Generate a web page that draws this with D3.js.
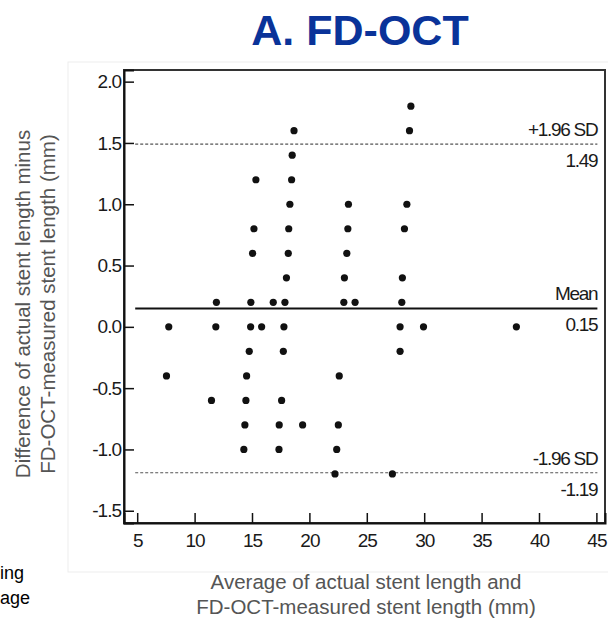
<!DOCTYPE html>
<html>
<head>
<meta charset="utf-8">
<script src="https://cdn.jsdelivr.net/npm/d3@7"></script>
<style>
  body { margin: 0; background: #fff; }
  svg { display: block; font-family: "Liberation Sans", Arial, sans-serif; }
</style>
</head>
<body>
<svg id="chart" width="608" height="618"></svg>
<script>
// Bland-Altman data: average length (mm) and difference (mm)
const avgLength = [
  18.66, 18.5, 15.34, 18.45, 18.3, 23.4, 15.17, 18.2, 23.35, 15.05, 18.16, 23.26, 18.0, 23.05,
  11.9, 14.9, 16.85, 17.87, 23.0, 23.98, 28.05,
  7.75, 11.85, 14.88, 15.84, 17.78, 27.9, 29.94, 38.03,
  14.76, 17.73, 27.9, 7.55, 14.53, 22.6, 11.47, 14.47, 17.58,
  14.38, 17.37, 19.41, 22.52, 14.29, 17.35, 22.38, 22.23, 27.23,
  28.84, 28.72, 28.49, 28.28, 28.1
];
const difference = [
  1.6, 1.4, 1.2, 1.2, 1.0, 1.0, 0.8, 0.8, 0.8, 0.6, 0.6, 0.6, 0.4, 0.4,
  0.2, 0.2, 0.2, 0.2, 0.2, 0.2, 0.2,
  0, 0, 0, 0, 0, 0, 0, 0,
  -0.2, -0.2, -0.2, -0.4, -0.4, -0.4, -0.6, -0.6, -0.6,
  -0.8, -0.8, -0.8, -0.8, -1.0, -1.0, -1.0, -1.2, -1.2,
  1.8, 1.6, 1.0, 0.8, 0.4
];
const xTicks = [5, 10, 15, 20, 25, 30, 35, 40, 45];
const yTicks = [2.0, 1.5, 1.0, 0.5, 0.0, -0.5, -1.0, -1.5];

// reference lines: value, label above, label below, dashed?
const limitValues = [1.49, 0.15, -1.19];
const limitNames = ["+1.96 SD", "Mean", "-1.96 SD"];
const limitText = ["1.49", "0.15", "-1.19"];
const limitDashed = [true, false, true];

const svg = d3.select('#chart');

const x = d3.scaleLinear().domain([3.85, 45.75]).range([124, 605]);
const y = d3.scaleLinear().domain([-1.6, 2.095]).range([523, 70]);

// faint panel outline from the source figure
svg.append('rect')
  .attr('x', 68).attr('y', 62)
  .attr('width', 545).attr('height', 510)
  .attr('fill', 'none')
  .attr('stroke', '#ededed');

// title
svg.append('text')
  .attr('x', 360).attr('y', 45)
  .attr('text-anchor', 'middle')
  .attr('font-size', 43)
  .attr('font-weight', 'bold')
  .attr('fill', '#0a3399')
  .text('A. FD-OCT');

// cut-off text of the neighbouring panel
svg.append('g')
  .attr('font-size', 18)
  .attr('fill', '#000')
  .selectAll('text')
  .data(['ing', 'age'])
  .join('text')
  .attr('x', 0)
  .attr('y', (d, i) => 579 + i * 25)
  .text(d => d);

// plot frame
svg.append('rect')
  .attr('x', x.range()[0]).attr('y', y.range()[1])
  .attr('width', x.range()[1] - x.range()[0])
  .attr('height', y.range()[0] - y.range()[1])
  .attr('fill', 'none')
  .attr('stroke', '#333')
  .attr('stroke-width', 2);

// axes, ticks point inward
const yAxis = svg.append('g')
  .attr('transform', `translate(${x.range()[0]},0)`)
  .call(d3.axisLeft(y).tickValues(yTicks).tickSize(-10).tickPadding(3)
    .tickFormat(d => d.toFixed(1)));

const xAxis = svg.append('g')
  .attr('transform', `translate(0,${y.range()[0]})`)
  .call(d3.axisBottom(x).tickValues(xTicks).tickSize(-10).tickPadding(11)
    .tickFormat(d => d));

[yAxis, xAxis].forEach(g => {
  g.select('.domain').attr('stroke', '#111').attr('stroke-width', 2);
  g.selectAll('.tick line').attr('stroke', '#111').attr('stroke-width', 1.5);
  g.selectAll('.tick text')
    .attr('font-size', 19)
    .attr('fill', '#1a1a1a')
    .attr('letter-spacing', -1)
    .attr('font-family', '"Liberation Sans", Arial, sans-serif');
});

// limits of agreement and mean
const lineX1 = x(xTicks[0]) - 2;
const lineX2 = x(xTicks[xTicks.length - 1]) + 1;
const limits = svg.append('g');
limitValues.forEach((v, i) => {
  limits.append('line')
    .attr('x1', lineX1).attr('x2', lineX2)
    .attr('y1', y(v)).attr('y2', y(v))
    .attr('stroke', limitDashed[i] ? '#555' : '#111')
    .attr('stroke-width', limitDashed[i] ? 1.2 : 2)
    .attr('stroke-dasharray', limitDashed[i] ? '3,2' : null);
  limits.append('text')
    .attr('x', lineX2).attr('y', y(v) - 8)
    .attr('text-anchor', 'end')
    .attr('font-size', 19)
    .attr('letter-spacing', -1.3)
    .attr('fill', '#1a1a1a')
    .text(limitNames[i]);
  limits.append('text')
    .attr('x', lineX2).attr('y', y(v) + 23)
    .attr('text-anchor', 'end')
    .attr('font-size', 19)
    .attr('letter-spacing', -1.3)
    .attr('fill', '#1a1a1a')
    .text(limitText[i]);
});

// points
svg.append('g')
  .selectAll('circle')
  .data(avgLength.map((d, i) => [d, difference[i]]))
  .join('circle')
  .attr('cx', d => x(d[0]))
  .attr('cy', d => y(d[1]))
  .attr('r', 3.6)
  .attr('fill', '#111');

// axis titles
const titleColor = '#555';
svg.append('g')
  .attr('font-size', 20.5)
  .attr('fill', titleColor)
  .attr('text-anchor', 'middle')
  .selectAll('text')
  .data(['Average of actual stent length and', 'FD-OCT-measured stent length (mm)'])
  .join('text')
  .attr('x', 366)
  .attr('y', (d, i) => 589 + i * 25)
  .text(d => d);

svg.append('g')
  .attr('font-size', 20.5)
  .attr('fill', titleColor)
  .attr('text-anchor', 'middle')
  .selectAll('text')
  .data(['Difference of actual stent length minus', 'FD-OCT-measured stent length (mm)'])
  .join('text')
  .attr('transform', (d, i) => `translate(${30 + i * 25},304)rotate(-90)`)
  .text(d => d);
</script>
</body>
</html>
